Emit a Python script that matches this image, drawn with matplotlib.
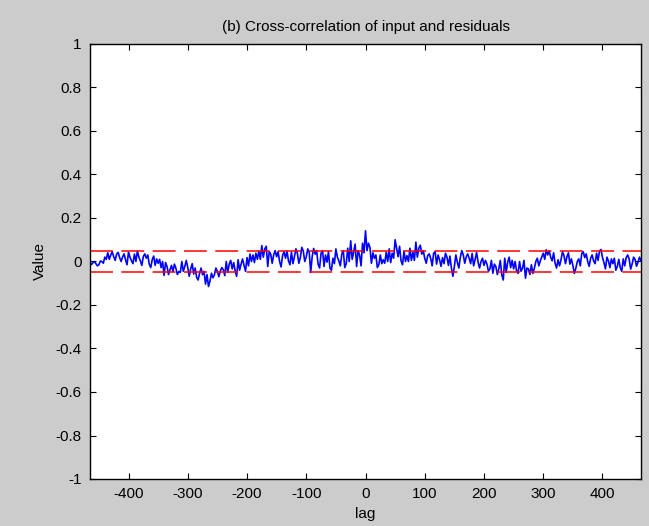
import numpy as np
import matplotlib
matplotlib.use('Agg')
import matplotlib.pyplot as plt

plt.rcParams['font.family'] = ['Liberation Sans', 'DejaVu Sans']
plt.rcParams['axes.unicode_minus'] = False

# lag values (step 5) and cross-correlation
lags = list(range(-465, 466, 5))
valori = [
    -0.003, -0.006, -0.010, -0.015, 0.000, 0.020, 0.040, 0.030, 0.022, 0.034,
    0.018, 0.021, 0.008, 0.043, 0.003, 0.034, 0.048, 0.003, 0.023, 0.015,
    -0.012, 0.008, -0.018, -0.008, -0.028, -0.064, -0.023, -0.038, -0.046, -0.031,
    -0.046, 0.000, -0.023, -0.028, -0.034, -0.058, -0.073, -0.054, -0.061,
    -0.104, -0.115, -0.054, -0.061, -0.046, -0.043, -0.038, 0.000, -0.012, -0.034,
    -0.043, 0.008, -0.012, -0.018, 0.018, 0.034, 0.030, 0.038, 0.048, 0.073,
    0.058, -0.023, 0.034, 0.030, 0.022, 0.000, 0.027, 0.015, 0.003, 0.043,
    0.022, 0.038, 0.018, 0.048, 0.021, 0.043, 0.022, 0.034, -0.012, 0.038,
    -0.023, -0.003, -0.031, 0.015, 0.058, 0.003, 0.034, -0.028, 0.061, 0.095,
    0.043, -0.023, 0.030, 0.084, 0.141, 0.084, -0.008, 0.015, -0.028, 0.030,
    0.008, 0.043, 0.058, 0.038, 0.100, 0.022, 0.003, 0.048, 0.027, 0.061,
    0.043, 0.089, 0.061, 0.034, 0.015, 0.027, 0.015, 0.038, -0.012, 0.008,
    0.018, 0.038, -0.018, -0.031, -0.023, -0.003, 0.018, 0.030, 0.021, 0.015,
    0.037, 0.009, -0.003, 0.000, -0.018, -0.012, -0.034, -0.054, -0.023, -0.034,
    -0.061, 0.015, -0.003, -0.028, -0.034, -0.043, 0.000, -0.031, -0.077, -0.034,
    -0.015, -0.031, 0.015, 0.003, 0.038, 0.054, 0.049, 0.003, -0.008, 0.008,
    0.008, 0.027, 0.022, -0.012, -0.018, -0.031, 0.012, 0.037, 0.018, 0.000,
    0.015, 0.003, 0.038, 0.049, 0.018, -0.034, 0.003, 0.012, 0.015, -0.023,
    -0.028, 0.012, 0.018, 0.012, -0.012, 0.009, -0.003, 0.003,
]
# values in between (lag -462.5, -457.5, ...), read from the other edge of the noisy band
valori_mezzo = [
    -0.014, 0.000, -0.020, 0.002, -0.008, 0.010, 0.010, 0.045, 0.005, 0.042,
    0.000, 0.035, -0.015, 0.020, -0.010, 0.000, 0.020, -0.018, 0.035, 0.030,
    -0.028, 0.025, 0.012, 0.010, 0.000, -0.005, -0.060, -0.018, -0.012, -0.060,
    -0.050, -0.045, 0.005, -0.068, -0.010, -0.030, -0.085, -0.030, -0.045, -0.060,
    -0.090, -0.075, -0.030, -0.070, -0.028, -0.065, -0.050, 0.005, -0.005, -0.068,
    -0.040, 0.012, -0.045, -0.020, 0.000, -0.005, 0.010, 0.010, 0.020, 0.070,
    0.045, -0.008, 0.050, 0.045, -0.025, 0.045, 0.048, -0.015, -0.010, 0.058,
    -0.008, 0.065, 0.000, 0.058, -0.050, 0.060, 0.050, -0.030, 0.050, 0.030,
    0.045, -0.040, -0.010, 0.020, -0.020, 0.050, -0.010, 0.000, 0.010, 0.080,
    0.050, -0.020, 0.040, 0.050, 0.065, 0.040, 0.030, -0.015, -0.010, -0.008,
    0.000, -0.005, 0.015, 0.060, 0.070, -0.015, 0.000, 0.000, 0.005, 0.005,
    0.020, 0.075, 0.050, -0.008, 0.035, -0.020, 0.045, 0.030, -0.022, -0.010,
    0.020, 0.025, -0.068, 0.030, -0.030, 0.050, -0.008, 0.035, -0.010, -0.020,
    0.042, -0.030, 0.015, 0.005, -0.045, 0.005, -0.012, -0.060, 0.005, -0.085,
    -0.050, 0.020, 0.005, 0.000, -0.055, -0.045, 0.005, -0.030, -0.060, -0.055,
    0.000, -0.020, 0.020, 0.010, 0.030, 0.020, 0.040, -0.030, -0.020, 0.045,
    -0.010, 0.040, 0.012, -0.055, 0.000, -0.020, 0.045, 0.035, -0.022, 0.030,
    -0.010, 0.005, 0.055, -0.005, 0.020, -0.028, -0.010, -0.040, 0.010, -0.045,
    -0.020, 0.030, -0.035, 0.020, -0.022, 0.020,
]
soglia = 0.05  # confidence bounds

xmin, xmax = -465, 465

# mette insieme i due gruppi di punti
x = np.empty(len(lags) + len(valori_mezzo))
y = np.empty_like(x)
x[0::2] = lags
x[1::2] = np.array(lags[:-1]) + 2.5
y[0::2] = valori
y[1::2] = valori_mezzo

fig = plt.figure(figsize=(6.49, 5.26), dpi=100, facecolor='#cccccc')
ax = fig.add_axes([90/649, 1-479/526, (641-90)/649, (479-44)/526])
ax.set_facecolor('white')

ax.plot(x, y, color='#0000ff', linewidth=1.2)
ax.plot([xmin, xmax], [soglia, soglia], color='#ff0000', linewidth=1.1, linestyle=(0, (15, 5.5)))
ax.plot([xmin, xmax], [-soglia, -soglia], color='#ff0000', linewidth=1.1, linestyle=(0, (15, 5.5)))

ax.set_xlim(xmin, xmax)
ax.set_ylim(-1, 1)
ax.set_xticks(range(-400, 401, 100))
yt = [-1, -0.8, -0.6, -0.4, -0.2, 0, 0.2, 0.4, 0.6, 0.8, 1]
ax.set_yticks(yt)
ax.set_yticklabels(['-1', '-0.8', '-0.6', '-0.4', '-0.2', '0', '0.2', '0.4', '0.6', '0.8', '1'])

ax.tick_params(direction='in', top=True, right=True, length=4.3, width=0.8,
               labelsize=11, pad=6, colors='black')
for s in ax.spines.values():
    s.set_linewidth(1.0)
    s.set_color('black')

ax.set_title('(b) Cross-correlation of input and residuals', fontsize=11, pad=9)
ax.set_xlabel('lag', fontsize=11, labelpad=4)
ax.set_ylabel('Value', fontsize=11, labelpad=6)

fig.savefig('out.png', dpi=100, facecolor=fig.get_facecolor())
